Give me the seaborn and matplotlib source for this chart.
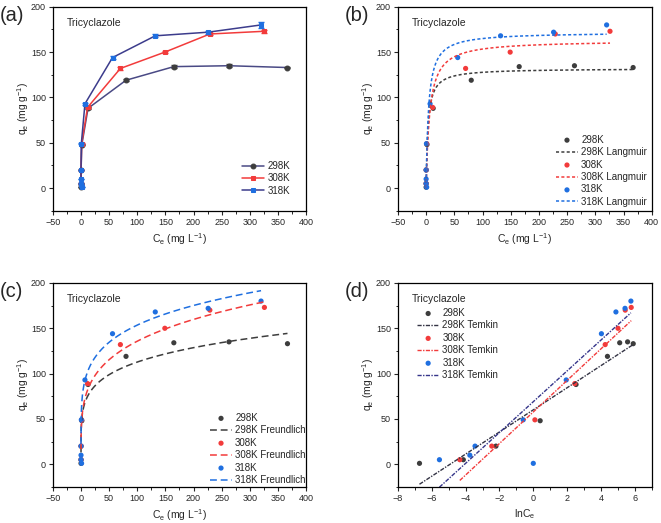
import numpy as np
import pandas as pd
import matplotlib
matplotlib.use("Agg")
import matplotlib.pyplot as plt
import seaborn as sns
from matplotlib.ticker import MultipleLocator

sns.set_style("ticks")
plt.rcParams["font.family"] = ["Liberation Sans", "DejaVu Sans"]
plt.rcParams["mathtext.fontset"] = "custom"
plt.rcParams["mathtext.rm"] = "Liberation Sans"
plt.rcParams["mathtext.it"] = "Liberation Sans:italic"

temps = ['298K', '308K', '318K']

# equilibrium data (Ce in mg/L, qe in mg/g)
ce_298 = [0.0012, 0.016, 0.11, 1.5, 12.5, 80, 165, 263, 367]
qe_298 = [1, 5, 20, 48, 88, 119, 134, 135, 133]
err_298 = [0.3, 0.3, 0.5, 0.8, 1.0, 1.0, 1.5, 1.5, 1.0]

ce_308 = [0.013, 0.086, 1.1, 11.6, 70, 149, 229, 326]
qe_308 = [5, 20, 49, 89, 132, 150, 170, 173]
err_308 = [0.3, 0.5, 0.8, 1.0, 1.2, 1.2, 1.5, 1.5]

ce_318 = [1.0, 0.0039, 0.0235, 0.032, 0.55, 7.0, 56, 132, 226, 320]
qe_318 = [1, 5, 10, 20, 49, 93, 144, 168, 172, 180]
err_318 = [0.3, 0.3, 0.3, 0.5, 0.8, 1.0, 1.2, 1.5, 1.5, 3.5]

# fitted model parameters
qm_lang = [132, 163, 172]
kl_lang = [0.30, 0.16, 0.235]
kf_freu = [47, 46, 64]
inv_n_freu = [0.19, 0.235, 0.19]
a_temk = [60, 57.7, 69]
b_temk = [12.2, 17.4, 17.0]

series = [(ce_298, qe_298, err_298), (ce_308, qe_308, err_308), (ce_318, qe_318, err_318)]
pt_colors = ['#3d3d3d', '#f23b3b', '#1f6fe0']
line_a = ['#4a4a85', '#f23b3b', '#3c3c8c']
temk_colors = ['#333344', '#f23b3b', '#35358a']
markers_a = ['o', 's', 's']

fig = plt.figure(figsize=(6.61, 5.23), dpi=100)
axa = fig.add_axes([0.080, 0.597, 0.383, 0.390])
axb = fig.add_axes([0.602, 0.597, 0.384, 0.390])
axc = fig.add_axes([0.080, 0.069, 0.383, 0.390])
axd = fig.add_axes([0.602, 0.069, 0.384, 0.390])

ylab = r'q$_\mathrm{e}$ (mg g$^{-1}$)'
xlab = r'C$_\mathrm{e}$ (mg L$^{-1}$)'
leg_kw = dict(frameon=False, fontsize=7, handlelength=2.3, handletextpad=0.3,
              labelspacing=0.25, borderpad=0, borderaxespad=0, loc='center left')


def style(ax, xlim, xmaj, xlabel):
    ax.set_xlim(*xlim)
    ax.set_ylim(-25, 200)
    ax.xaxis.set_major_locator(MultipleLocator(xmaj))
    ax.xaxis.set_minor_locator(MultipleLocator(xmaj / 2))
    ax.yaxis.set_major_locator(MultipleLocator(50))
    ax.yaxis.set_minor_locator(MultipleLocator(25))
    ax.tick_params(which='major', length=3, width=0.8, labelsize=6.5, pad=2, direction='out')
    ax.tick_params(which='minor', length=1.8, width=0.7, direction='out')
    for sp in ax.spines.values():
        sp.set_linewidth(0.9)
        sp.set_color('black')
    ax.set_xlabel(xlabel, fontsize=7.5, labelpad=3)
    ax.set_ylabel(ylab, fontsize=7.5, labelpad=0)
    ax.text(0.055, 0.92, 'Tricyclazole', transform=ax.transAxes, fontsize=7.5, va='center')


# (a) experimental isotherms
for i, (ce, qe, err) in enumerate(series):
    df = pd.DataFrame({'Ce': ce, 'qe': qe})
    sns.lineplot(data=df, x='Ce', y='qe', sort=False, estimator=None, ax=axa,
                 color=line_a[i], lw=1.1, marker=markers_a[i], markersize=3.5,
                 markerfacecolor=pt_colors[i], markeredgecolor=pt_colors[i],
                 label=temps[i])
    axa.errorbar(ce, qe, yerr=err, fmt='none', ecolor=pt_colors[i], elinewidth=0.8, capsize=2)
style(axa, (-50, 400), 50, xlab)
axa.legend(bbox_to_anchor=(0.747, 0.159), **leg_kw)

# (b) Langmuir
for i, (ce, qe, err) in enumerate(series):
    sns.scatterplot(x=ce, y=qe, ax=axb, color=pt_colors[i], s=14, edgecolor='none', label=temps[i])
    xs = np.geomspace(min(ce), max(ce), 300)
    ys = qm_lang[i] * kl_lang[i] * xs / (1 + kl_lang[i] * xs)
    sns.lineplot(x=xs, y=ys, ax=axb, color=pt_colors[i], lw=1.1, linestyle=(0, (2, 1.5)),
                 sort=False, estimator=None, label=temps[i] + ' Langmuir')
style(axb, (-50, 400), 50, xlab)
axb.legend(bbox_to_anchor=(0.622, 0.196), **leg_kw)

# (c) Freundlich
for i, (ce, qe, err) in enumerate(series):
    sns.scatterplot(x=ce, y=qe, ax=axc, color=pt_colors[i], s=14, edgecolor='none', label=temps[i])
    xs = np.geomspace(min(ce), max(ce), 300)
    ys = kf_freu[i] * xs ** inv_n_freu[i]
    sns.lineplot(x=xs, y=ys, ax=axc, color=pt_colors[i], lw=1.1, linestyle=(0, (4.5, 2.5)),
                 sort=False, estimator=None, label=temps[i] + ' Freundlich')
style(axc, (-50, 400), 50, xlab)
axc.legend(bbox_to_anchor=(0.62, 0.186), **leg_kw)

# (d) Temkin
for i, (ce, qe, err) in enumerate(series):
    lnc = np.log(ce)
    sns.scatterplot(x=lnc, y=qe, ax=axd, color=pt_colors[i], s=14, edgecolor='none', label=temps[i])
    xs = np.array([lnc.min(), lnc.max()])
    ys = a_temk[i] + b_temk[i] * xs
    sns.lineplot(x=xs, y=ys, ax=axd, color=temk_colors[i], lw=1.0, linestyle=(0, (3, 1, 1, 1)),
                 sort=False, estimator=None, label=temps[i] + ' Temkin')
style(axd, (-8, 7), 2, r'lnC$_\mathrm{e}$')
axd.xaxis.set_minor_locator(MultipleLocator(1))
axd.legend(bbox_to_anchor=(0.075, 0.70), **leg_kw)

for ax, lab in zip([axa, axb, axc, axd], ['(a)', '(b)', '(c)', '(d)']):
    pos = ax.get_position()
    fig.text(pos.x0 - 0.080, pos.y1 + 0.002, lab, fontsize=14.5, va='top', ha='left')

fig.savefig('out.png', dpi=100)
